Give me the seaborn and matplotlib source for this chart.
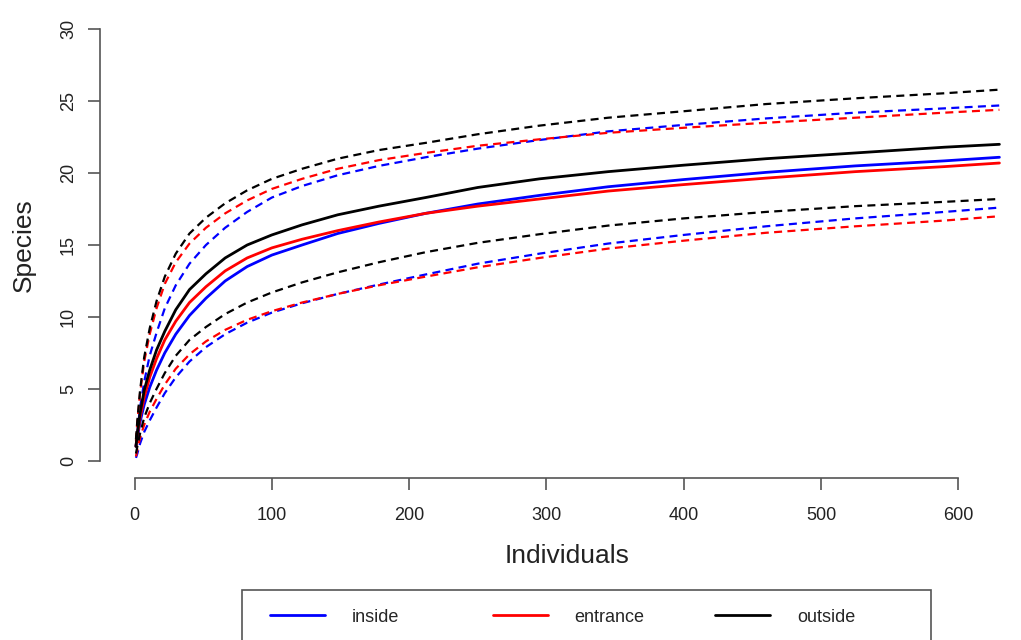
import matplotlib
matplotlib.use("Agg")
import pandas as pd
import matplotlib.pyplot as plt
import seaborn as sns
from matplotlib.lines import Line2D
from matplotlib.patches import Rectangle

# rarefaction curves
individuals = [1, 2, 4, 7, 11, 16, 22, 30, 40, 52, 66, 82, 100, 122, 148, 178, 212, 250, 295, 345, 400, 460, 525, 590, 630]

inside_est = [1.0, 1.6, 2.7, 3.9, 5.1, 6.3, 7.5, 8.8, 10.1, 11.3, 12.5, 13.5, 14.3, 15.0, 15.8, 16.5, 17.2, 17.85, 18.45, 19.05, 19.55, 20.05, 20.5, 20.85, 21.1]
inside_lo = [0.2, 0.5, 1.2, 2.0, 2.8, 3.7, 4.7, 5.8, 6.9, 7.9, 8.8, 9.6, 10.3, 10.95, 11.6, 12.25, 12.95, 13.7, 14.4, 15.1, 15.7, 16.3, 16.85, 17.3, 17.6]
inside_hi = [1.0, 2.0, 3.7, 5.5, 7.3, 8.9, 10.6, 12.2, 13.7, 15.0, 16.2, 17.3, 18.3, 19.1, 19.85, 20.5, 21.1, 21.7, 22.3, 22.9, 23.35, 23.8, 24.2, 24.5, 24.7]

entrance_est = [1.0, 1.8, 3.0, 4.4, 5.8, 7.1, 8.4, 9.7, 11.0, 12.1, 13.2, 14.1, 14.8, 15.4, 16.0, 16.6, 17.2, 17.7, 18.2, 18.75, 19.2, 19.65, 20.1, 20.45, 20.7]
entrance_lo = [0.3, 0.8, 1.6, 2.5, 3.4, 4.3, 5.3, 6.4, 7.4, 8.3, 9.1, 9.8, 10.4, 11.0, 11.6, 12.2, 12.8, 13.45, 14.1, 14.75, 15.3, 15.85, 16.3, 16.7, 17.0]
entrance_hi = [1.4, 2.7, 4.7, 6.9, 8.8, 10.6, 12.3, 13.8, 15.1, 16.2, 17.2, 18.1, 18.9, 19.6, 20.3, 20.9, 21.4, 21.9, 22.35, 22.8, 23.15, 23.5, 23.85, 24.2, 24.4]

outside_est = [1.0, 1.9, 3.3, 4.9, 6.3, 7.7, 9.0, 10.5, 11.9, 13.0, 14.1, 15.0, 15.7, 16.4, 17.1, 17.7, 18.3, 19.0, 19.6, 20.1, 20.55, 21.0, 21.4, 21.8, 22.0]
outside_lo = [0.5, 1.0, 1.9, 3.0, 4.0, 5.0, 6.1, 7.3, 8.4, 9.3, 10.2, 11.0, 11.7, 12.4, 13.1, 13.8, 14.5, 15.15, 15.75, 16.35, 16.85, 17.3, 17.7, 18.0, 18.2]
outside_hi = [1.5, 2.8, 4.9, 7.2, 9.2, 11.1, 12.8, 14.4, 15.8, 16.9, 17.9, 18.8, 19.6, 20.3, 21.0, 21.6, 22.1, 22.7, 23.3, 23.85, 24.3, 24.8, 25.2, 25.55, 25.8]

sites = ["inside", "entrance", "outside"]
colors = {"inside": "#0000ff", "entrance": "#ff0000", "outside": "#000000"}

series = {
    ("inside", "est"): inside_est, ("inside", "lower"): inside_lo, ("inside", "upper"): inside_hi,
    ("entrance", "est"): entrance_est, ("entrance", "lower"): entrance_lo, ("entrance", "upper"): entrance_hi,
    ("outside", "est"): outside_est, ("outside", "lower"): outside_lo, ("outside", "upper"): outside_hi,
}

rows = []
for (site, kind), vals in series.items():
    for n, s in zip(individuals, vals):
        rows.append({"Individuals": n, "Species": s, "site": site, "kind": kind})
df = pd.DataFrame(rows)

sns.set_style("ticks")
plt.rcParams["font.family"] = ["Liberation Sans", "DejaVu Sans"]

fig = plt.figure(figsize=(10.21, 6.4), dpi=100)
ax = fig.add_axes([100 / 1021, 162 / 640, 934 / 1021, 466 / 640])

sns.lineplot(data=df, x="Individuals", y="Species", hue="site", style="kind", size="kind",
             palette=colors,
             dashes={"est": "", "lower": (3.6, 2.4), "upper": (3.6, 2.4)},
             sizes={"est": 2.0, "lower": 1.6, "upper": 1.6},
             estimator=None, legend=False, ax=ax)

ax.set_xlim(-25.2, 655.2)
ax.set_ylim(-1.2, 31.2)
ax.set_xticks(range(0, 601, 100))
ax.set_yticks(range(0, 31, 5))
for side in ["top", "right"]:
    ax.spines[side].set_visible(False)
ax.spines["left"].set_bounds(0, 30)
ax.spines["bottom"].set_bounds(0, 600)
for side in ["left", "bottom"]:
    ax.spines[side].set_color("#555555")
    ax.spines[side].set_linewidth(1.2)
ax.tick_params(direction="out", length=8.6, width=1.2, color="#555555",
               labelsize=13, labelcolor="#222222")
ax.tick_params(axis="x", pad=12.5)
ax.tick_params(axis="y", pad=8)
for lab in ax.get_yticklabels():
    lab.set_rotation(90)
    lab.set_va("center")

ax.set_xlabel("Individuals", fontsize=19, labelpad=14, color="#222222")
ax.set_ylabel("Species", fontsize=19, labelpad=17.5, color="#222222")

# legend row at the bottom, cut off by the figure edge like the original
fig.add_artist(Rectangle((242 / 1021, -0.1), 689 / 1021, 0.1 + 50 / 640,
                         transform=fig.transFigure, fill=False,
                         edgecolor="#555555", linewidth=1.2))
for i, site in enumerate(sites):
    handle = Line2D([], [], color=colors[site], linewidth=2.0)
    fig.legend([handle], [site], loc="center left",
               bbox_to_anchor=((270 + 222.5 * i) / 1021, 23 / 640),
               frameon=False, fontsize=13, handlelength=3.05,
               handletextpad=1.5, borderpad=0, borderaxespad=0)

fig.savefig("out.png", dpi=100)
